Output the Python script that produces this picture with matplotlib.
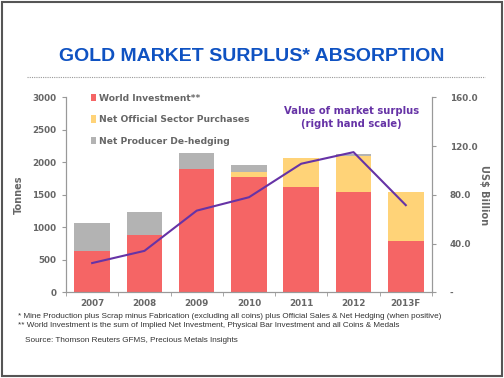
import numpy as np
import matplotlib.pyplot as plt
from matplotlib.patches import Rectangle
from matplotlib.lines import Line2D

years = ['2007', '2008', '2009', '2010', '2011', '2012', '2013F']
world_investment = [635, 877, 1900, 1775, 1615, 1550, 790]
official_sector = [0, 0, 0, 80, 455, 550, 755]
producer_dehedging = [435, 355, 240, 105, 0, 35, 0]
surplus_value = [24, 34, 67, 78, 105.5, 115, 71.5]

RED = '#F56565'
YELLOW = '#FFD378'
GRAY = '#B3B3B3'
PURPLE = '#6633A6'
TXT = '#666666'

plt.rcParams['font.family'] = ['DejaVu Sans']

fig = plt.figure(figsize=(5.04, 3.78), dpi=100)
ax = fig.add_axes([0.131, 0.2267, 0.726, 0.5159])
ax2 = ax.twinx()

x = np.arange(len(years))
w = 0.68
wi = np.array(world_investment)
os_ = np.array(official_sector)
ph = np.array(producer_dehedging)
ax.bar(x, wi, w, color=RED, label='World Investment**', zorder=2)
ax.bar(x, os_, w, bottom=wi, color=YELLOW, label='Net Official Sector Purchases', zorder=2)
ax.bar(x, ph, w, bottom=wi + os_, color=GRAY, label='Net Producer De-hedging', zorder=2)

ax2.plot(x, surplus_value, color=PURPLE, lw=1.5, zorder=3)

ax.set_xlim(-0.5, len(years) - 0.5)
ax.set_ylim(0, 3000)
ax2.set_ylim(0, 160)
ax.set_yticks(range(0, 3001, 500))
ax.set_yticklabels([str(v) for v in range(0, 3001, 500)], fontsize=6.3,
                   fontweight='bold', color=TXT)
ax2.set_yticks([0, 40, 80, 120, 160])
ax2.set_yticklabels(['-', '40.0', '80.0', '120.0', '160.0'], fontsize=6.3,
                    fontweight='bold', color=TXT)
ax.set_xticks(x)
ax.set_xticklabels(years, fontsize=6.3, fontweight='bold', color=TXT)
ax.set_xticks(np.arange(-0.5, len(years)), minor=True)
ax.tick_params(axis='x', which='major', length=0, pad=5)
ax.tick_params(axis='x', which='minor', length=3, color='#999999')
ax.tick_params(axis='y', length=3, color='#999999', pad=4)
ax2.tick_params(axis='y', length=3, color='#999999', pad=10)

for a in (ax, ax2):
    a.spines['top'].set_visible(False)
    for s in ('left', 'right', 'bottom'):
        a.spines[s].set_color('#999999')

ax.set_ylabel('Tonnes', fontsize=7, fontweight='bold', color=TXT, labelpad=6)
ax2.set_ylabel('US$ Billion', fontsize=7, fontweight='bold', color=TXT,
               rotation=270, labelpad=8)

leg = ax.legend(loc='upper left', bbox_to_anchor=(0.045, 1.06), frameon=False,
                fontsize=6.6, handlelength=0.6, handleheight=0.9,
                handletextpad=0.3, labelspacing=1.35)
for t in leg.get_texts():
    t.set_color(TXT)
    t.set_fontweight('bold')

ax2.text(0.78, 0.895, 'Value of market surplus\n(right hand scale)',
         transform=ax.transAxes, ha='center', va='center', fontsize=7.2,
         fontweight='bold', color=PURPLE, linespacing=1.35)

fig.text(0.5, 0.85, 'GOLD MARKET SURPLUS* ABSORPTION', ha='center', va='center',
         fontsize=14, fontweight='bold', color='#0F52C2', family='Liberation Sans')
fig.add_artist(Line2D([0.053, 0.963], [0.795, 0.795], transform=fig.transFigure,
                      color='#999999', lw=0.8, ls=(0, (1, 1))))

fig.text(0.036, 0.163, '* Mine Production plus Scrap minus Fabrication (excluding all coins) plus '
         'Official Sales & Net Hedging (when positive)', fontsize=5.9,
         family='Liberation Sans', color='#333333', va='center')
fig.text(0.036, 0.139, '** World Investment is the sum of Implied Net Investment, '
         'Physical Bar Investment and all Coins & Medals', fontsize=5.9,
         family='Liberation Sans', color='#333333', va='center')
fig.text(0.05, 0.098, 'Source: Thomson Reuters GFMS, Precious Metals Insights',
         fontsize=5.9, family='Liberation Sans', color='#333333', va='center')

fig.add_artist(Rectangle((0.004, 0.006), 0.992, 0.988, transform=fig.transFigure,
                         fill=False, edgecolor='#555555', lw=1.5))

fig.savefig('out.png', dpi=100)
